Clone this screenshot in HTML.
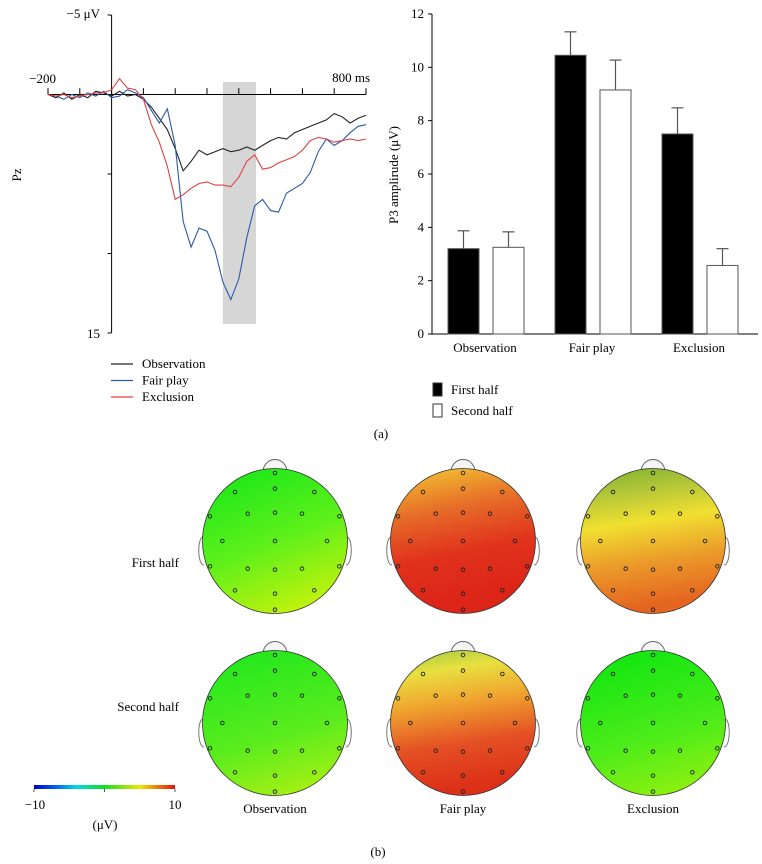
<!DOCTYPE html>
<html><head><meta charset="utf-8"><style>
body{margin:0;background:#fff;}
svg{display:block;font-family:"Liberation Serif",serif;}
</style></head><body>
<svg id="fig" width="762" height="864" viewBox="0 0 762 864">
<defs>
<linearGradient id="g-obs1" x1="0.3" y1="0" x2="0.7" y2="1"><stop offset="0" stop-color="#1ee81a"/><stop offset="0.5" stop-color="#5ef01a"/><stop offset="1" stop-color="#c8f20c"/></linearGradient>
<linearGradient id="g-fair1" x1="0" y1="0" x2="0.2" y2="1"><stop offset="0" stop-color="#e8e040"/><stop offset="0.1" stop-color="#f0b030"/><stop offset="0.35" stop-color="#e66a28"/><stop offset="0.65" stop-color="#e0321c"/><stop offset="1" stop-color="#dc2418"/></linearGradient>
<linearGradient id="g-exc1" x1="0" y1="0" x2="0.15" y2="1"><stop offset="0" stop-color="#7ab030"/><stop offset="0.22" stop-color="#b8c838"/><stop offset="0.42" stop-color="#f0e030"/><stop offset="0.7" stop-color="#eb9a2a"/><stop offset="1" stop-color="#e46420"/></linearGradient>
<linearGradient id="g-obs2" x1="0.3" y1="0" x2="0.6" y2="1"><stop offset="0" stop-color="#22e81e"/><stop offset="0.6" stop-color="#5aec1e"/><stop offset="1" stop-color="#a4f014"/></linearGradient>
<linearGradient id="g-fair2" x1="0" y1="0" x2="0.15" y2="1"><stop offset="0" stop-color="#9cc840"/><stop offset="0.18" stop-color="#e8e040"/><stop offset="0.4" stop-color="#f0a830"/><stop offset="0.7" stop-color="#e45024"/><stop offset="1" stop-color="#dc3018"/></linearGradient>
<linearGradient id="g-exc2" x1="0.3" y1="0" x2="0.6" y2="1"><stop offset="0" stop-color="#10e610"/><stop offset="0.6" stop-color="#4cec1a"/><stop offset="1" stop-color="#8cf010"/></linearGradient>
<linearGradient id="g-cbar" x1="0" y1="0" x2="1" y2="0"><stop offset="0" stop-color="#0000c8"/><stop offset="0.15" stop-color="#0060f0"/><stop offset="0.3" stop-color="#00d8e8"/><stop offset="0.5" stop-color="#10e020"/><stop offset="0.75" stop-color="#f0e800"/><stop offset="1" stop-color="#e81010"/></linearGradient>
</defs>
<g id="erp"></g>
<g id="bar"></g>
<text x="381" y="438" font-size="13" text-anchor="middle">(a)</text>
<g id="topo"></g>
<text x="378" y="856" font-size="13" text-anchor="middle">(b)</text>
</svg>
<script>
const NS="http://www.w3.org/2000/svg";
function mk(p,t,a,txt){const e=document.createElementNS(NS,t);for(const k in a)e.setAttribute(k,a[k]);if(txt!==undefined)e.textContent=txt;p.appendChild(e);return e;}
// ERP data
const erpTimes=[-200,-175,-150,-125,-100,-75,-50,-25,0,25,50,75,100,125,150,175,200,225,250,275,300,325,350,375,400,425,450,475,500,525,550,575,600,625,650,675,700,725,750,775,800];
const obsVals=[0,0.2,-0.1,0.3,0,0.2,-0.2,-0.1,0.1,-0.2,0.1,0,0.3,0.8,1.5,2.2,3.4,4.8,4.2,3.5,3.8,3.6,3.4,3.6,3.5,3.3,3.5,3.2,2.9,2.7,2.8,2.4,2.2,2.0,1.8,1.6,1.2,1.4,1.8,1.5,1.3];
const fairVals=[0,0.1,0.3,0,0.2,-0.1,0.1,-0.2,0.2,0.1,-0.3,-0.1,0.2,1.0,1.8,0.9,3.2,8.0,9.6,8.4,8.6,9.8,11.8,12.9,11.6,9.0,7.0,6.6,7.3,7.4,6.2,5.9,5.6,4.9,3.6,2.8,3.2,2.9,2.4,2.0,1.9];
const excVals=[0,0.1,0,0.2,0.1,0,-0.1,-0.1,-0.3,-1.0,-0.4,-0.3,0.3,1.9,3.0,4.5,6.6,6.3,5.9,5.6,5.5,5.7,5.7,5.8,5.2,4.2,3.8,4.7,4.6,4.3,4.1,3.9,3.5,2.9,2.7,2.8,3.0,2.9,2.8,2.9,2.8];
const erpNames=["Observation","Fair play","Exclusion"];
const erpColors=["#222","#2a5aa8","#e04040"];
const erpWindow=[350,454];
// Bar data
const barCats=["Observation","Fair play","Exclusion"];
const firstHalf=[3.2,10.45,7.5];
const secondHalf=[3.25,9.15,2.57];
const firstErr=[0.67,0.88,0.98];
const secondErr=[0.58,1.12,0.63];
const barTicks=[0,2,4,6,8,10,12];

const FS=13;
const ex=t=>48+(t+200)/1000*318, ey=v=>94.5+v*15.9;
const erp=document.getElementById('erp');
let r=mk(erp,'rect',{x:ex(erpWindow[0]),y:82,width:ex(erpWindow[1])-ex(erpWindow[0]),height:242,fill:'#d6d6d6'});

let a=mk(erp,'line',{x1:ex(0),y1:ey(-5),x2:ex(0),y2:ey(15),stroke:'#000','stroke-width':1});

a=mk(erp,'line',{x1:ex(-200),y1:ey(0),x2:ex(800),y2:ey(0),stroke:'#000','stroke-width':1});

for(let t=-200;t<=800;t+=100){const l=mk(erp,'line',{x1:ex(t),y1:ey(0),x2:ex(t),y2:ey(-0.4),stroke:'#000'});}
[-5,5,10,15].forEach(v=>{const l=mk(erp,'line',{x1:ex(0)-4,y1:ey(v),x2:ex(0),y2:ey(v),stroke:'#000'});});
[obsVals,fairVals,excVals].forEach((vals,i)=>{const d=vals.map((v,j)=>(j?'L':'M')+ex(erpTimes[j]).toFixed(1)+','+ey(v).toFixed(1)).join('');const p=mk(erp,'path',{d,fill:'none',stroke:erpColors[i],'stroke-width':1.1});});
let t=mk(erp,'text',{x:100,y:18,'font-size':FS,'text-anchor':'end'},'−5 μV');
t=mk(erp,'text',{x:56,y:83,'font-size':FS,'text-anchor':'end'},'−200');
t=mk(erp,'text',{x:370,y:82,'font-size':FS,'text-anchor':'end'},'800 ms');
t=mk(erp,'text',{x:100,y:338,'font-size':FS,'text-anchor':'end'},'15');
t=mk(erp,'text',{x:21,y:175,'font-size':FS,'text-anchor':'middle',transform:'rotate(-90 21 175)'},'Pz');
erpNames.forEach((n,i)=>{const y=364+i*16.5;const l=mk(erp,'line',{x1:111,y1:y,x2:133,y2:y,stroke:erpColors[i],'stroke-width':1.2});const tx=mk(erp,'text',{x:142,y:y+4,'font-size':FS},n);});

// bar chart
const bar=document.getElementById('bar');
const by=v=>334-v*26.67, bcx=i=>486+i*107;
a=mk(bar,'line',{x1:432,y1:by(0),x2:432,y2:by(12),stroke:'#000'});
a=mk(bar,'line',{x1:432,y1:by(0),x2:758,y2:by(0),stroke:'#000'});
barTicks.forEach(v=>{const l=mk(bar,'line',{x1:428,y1:by(v),x2:432,y2:by(v),stroke:'#000'});const tx=mk(bar,'text',{x:424,y:by(v)+4,'font-size':FS,'text-anchor':'end'},v);});
barCats.forEach((c,i)=>{
 [[firstHalf,firstErr,'#000',-38],[secondHalf,secondErr,'#fff',7]].forEach(([vals,errs,fill,off],k)=>{
  const x=bcx(i)+off, w=31, v=vals[i];
  const e=mk(bar,'line',{x1:x+w/2,y1:by(v),x2:x+w/2,y2:by(v+errs[i]),stroke:'#555','stroke-width':1.2});
  const e2=mk(bar,'line',{x1:x+w/2-6,y1:by(v+errs[i]),x2:x+w/2+6,y2:by(v+errs[i]),stroke:'#555','stroke-width':1.2});
  const rr=mk(bar,'rect',{x,y:by(v),width:w,height:by(0)-by(v),fill,stroke:'#555','stroke-width':1});
  
 });
 const tx=mk(bar,'text',{x:bcx(i)-1,y:352,'font-size':FS,'text-anchor':'middle'},c);
});
t=mk(bar,'text',{x:398,y:175,'font-size':FS,'text-anchor':'middle',transform:'rotate(-90 398 175)'},'P3 amplirude (μV)');
[['First half','#000'],['Second half','#fff']].forEach(([n,f],i)=>{const y=383+i*21;const s=mk(bar,'rect',{x:433,y,width:9,height:13,fill:f,stroke:'#333'});const tx=mk(bar,'text',{x:451,y:y+11,'font-size':FS},n);});

// topomaps
const topo=document.getElementById('topo');
const elec=[[257,98],[257,145],[137,155],[375,155],[62,228],[175,220],[257,217],[338,220],[450,228],[99,302],[257,302],[413,302],[62,378],[175,385],[257,388],[338,385],[450,378],[137,450],[257,460],[375,450],[257,508]];
const heads=[[275,541,'g-obs1'],[463,541,'g-fair1'],[653,541,'g-exc1'],[275,723,'g-obs2'],[463,723,'g-fair2'],[653,723,'g-exc2']];
heads.forEach(([cx,cy,g],i)=>{
 const grp=mk(topo,'g',{});
 mk(grp,'path',{d:`M${cx-12},${cy-71} C${cx-9},${cy-85} ${cx+9},${cy-85} ${cx+12},${cy-71}`,fill:'#f4f4f4',stroke:'#666'});
 mk(grp,'path',{d:`M${cx-71},${cy-4} C${cx-78},${cy-6} ${cx-78},${cy+24} ${cx-71},${cy+24}`,fill:'#fff',stroke:'#777'});
 mk(grp,'path',{d:`M${cx+71},${cy-4} C${cx+78},${cy-6} ${cx+78},${cy+24} ${cx+71},${cy+24}`,fill:'#fff',stroke:'#777'});
 mk(grp,'circle',{cx,cy,r:72.5,fill:`url(#${g})`,stroke:'#333','stroke-width':0.8});
 elec.forEach(([zx,zy])=>{const c=mk(grp,'circle',{cx:cx+(zx-257)/3,cy:cy+(zy-302)/3,r:1.8,fill:'none',stroke:'#222','stroke-width':0.9});});
});
t=mk(topo,'text',{x:179,y:567,'font-size':FS,'text-anchor':'end'},'First half');
t=mk(topo,'text',{x:179,y:711,'font-size':FS,'text-anchor':'end'},'Second half');
['Observation','Fair play','Exclusion'].forEach((n,i)=>{const tx=mk(topo,'text',{x:[275,463,653][i],y:813,'font-size':FS,'text-anchor':'middle'},n);});
const cb=mk(topo,'rect',{x:34,y:785,width:141,height:4,fill:'url(#g-cbar)'});
[34,104.5,175].forEach(x=>mk(topo,'line',{x1:x,y1:789,x2:x,y2:792,stroke:'#555'}));
t=mk(topo,'text',{x:35,y:809,'font-size':FS,'text-anchor':'middle'},'−10');
t=mk(topo,'text',{x:175,y:809,'font-size':FS,'text-anchor':'middle'},'10');
t=mk(topo,'text',{x:105,y:829,'font-size':FS,'text-anchor':'middle'},'(μV)');
</script>
</body></html>
